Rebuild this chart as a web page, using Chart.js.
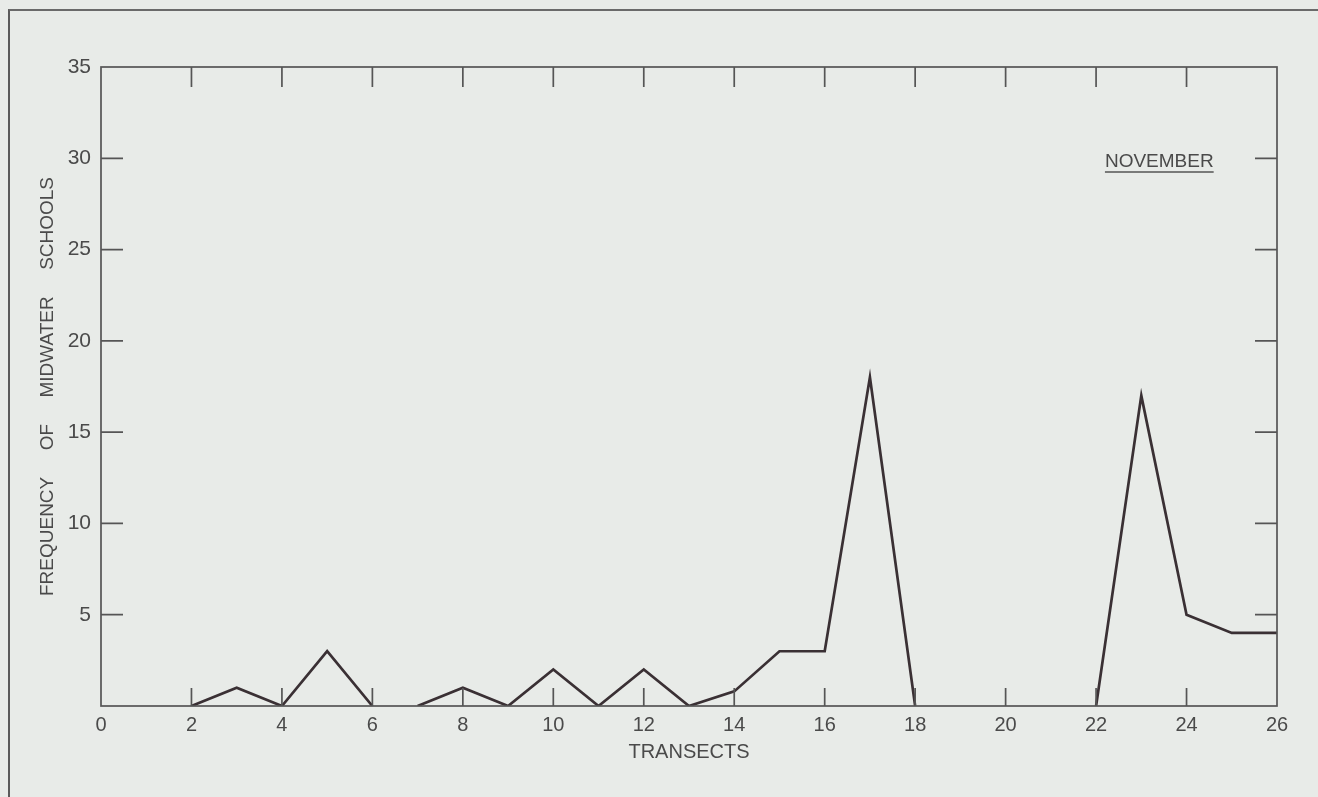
<!DOCTYPE html>
<html>
<head>
<meta charset="utf-8">
<script src="https://cdn.jsdelivr.net/npm/chart.js@4.4.1/dist/chart.umd.min.js"></script>
<style>
  html, body { margin: 0; padding: 0; background: #e8ebe8; }
  #wrap { position: relative; width: 1318px; height: 797px; overflow: hidden; }
  #frame { position: absolute; left: 8px; top: 9px; width: 1400px; height: 900px;
           border-top: 2px solid #6a6a6a; border-left: 2px solid #5a5a5a; }
  #chart { position: absolute; left: 0; top: 0; }
</style>
</head>
<body>
<div id="wrap">
  <div id="frame"></div>
  <canvas id="chart" width="1318" height="797"></canvas>
</div>
<script>
// transect numbers and school counts, split where the original line breaks
const transectsA = [2, 3, 4, 5, 6];
const schoolsA = [0, 1, 0, 3, 0];

const transectsB = [7, 8, 9, 10, 11, 12, 13, 14, 15, 16, 17, 18];
const schoolsB = [0, 1, 0, 2, 0, 2, 0, 0.8, 3, 3, 18, 0];

const transectsC = [22, 23, 24, 25, 26];
const schoolsC = [0, 17, 5, 4, 4];

const xTicks = [0, 2, 4, 6, 8, 10, 12, 14, 16, 18, 20, 22, 24, 26];
const yTicks = [5, 10, 15, 20, 25, 30, 35];
const innerX = [2, 4, 6, 8, 10, 12, 14, 16, 18, 20, 22, 24];
const innerY = [5, 10, 15, 20, 25, 30];

const ink = "#555555";
const textInk = "#4a4a4a";
const lineInk = "#3a3034";
const fontFamily = "'Liberation Sans', Arial, sans-serif";

function toPoints(xs, ys) {
    return xs.map((x, i) => ({ x: x, y: ys[i] }));
}

function gap(n) {
    return "\u00a0".repeat(n);
}

const yTitle = "FREQUENCY" + gap(5) + "OF" + gap(5) + "MIDWATER" + gap(5) + "SCHOOLS";

// frame, inward tick marks and the month label
const framePlugin = {
    id: "framePlugin",
    afterDraw(chart) {
        const ctx = chart.ctx;
        const area = chart.chartArea;
        const xs = chart.scales.x;
        const ys = chart.scales.y;

        ctx.save();
        ctx.strokeStyle = ink;
        ctx.lineWidth = 1.7;
        ctx.strokeRect(area.left, area.top, area.right - area.left, area.bottom - area.top);

        ctx.beginPath();
        innerX.forEach(v => {
            const px = xs.getPixelForValue(v);
            ctx.moveTo(px, area.top);
            ctx.lineTo(px, area.top + 20);
            ctx.moveTo(px, area.bottom);
            ctx.lineTo(px, area.bottom - 18);
        });
        innerY.forEach(v => {
            const py = ys.getPixelForValue(v);
            ctx.moveTo(area.left, py);
            ctx.lineTo(area.left + 22, py);
            ctx.moveTo(area.right, py);
            ctx.lineTo(area.right - 22, py);
        });
        ctx.stroke();

        ctx.fillStyle = textInk;
        ctx.font = "19px " + fontFamily;
        ctx.textAlign = "right";
        ctx.textBaseline = "middle";
        const lx = xs.getPixelForValue(24.6);
        const ly = ys.getPixelForValue(29.8);
        ctx.fillText("NOVEMBER", lx, ly);
        const w = ctx.measureText("NOVEMBER").width;
        ctx.lineWidth = 1.4;
        ctx.beginPath();
        ctx.moveTo(lx - w, ly + 10);
        ctx.lineTo(lx, ly + 10);
        ctx.stroke();
        ctx.restore();
    }
};

function series(xs, ys) {
    return {
        data: toPoints(xs, ys),
        borderColor: lineInk,
        borderWidth: 2.7,
        pointRadius: 0,
        tension: 0,
        fill: false
    };
}

new Chart(document.getElementById("chart"), {
    type: "line",
    data: {
        datasets: [
            series(transectsA, schoolsA),
            series(transectsB, schoolsB),
            series(transectsC, schoolsC)
        ]
    },
    options: {
        responsive: false,
        animation: false,
        layout: { padding: { top: 67, right: 41, left: 0, bottom: 0 } },
        plugins: {
            legend: { display: false },
            tooltip: { enabled: false }
        },
        scales: {
            x: {
                type: "linear",
                min: 0,
                max: 26,
                afterFit: s => { s.height = 91; },
                afterBuildTicks: s => { s.ticks = xTicks.map(v => ({ value: v })); },
                grid: { display: false, drawTicks: false },
                border: { display: false },
                ticks: {
                    color: textInk,
                    font: { family: fontFamily, size: 20 },
                    padding: 7,
                    maxRotation: 0,
                    autoSkip: false
                },
                title: {
                    display: true,
                    text: "TRANSECTS",
                    color: textInk,
                    font: { family: fontFamily, size: 20 },
                    padding: { top: 0, bottom: 33 }
                }
            },
            y: {
                type: "linear",
                min: 0,
                max: 35,
                afterFit: s => { s.width = 101; },
                afterBuildTicks: s => { s.ticks = yTicks.map(v => ({ value: v })); },
                grid: { display: false, drawTicks: false },
                border: { display: false },
                ticks: {
                    color: textInk,
                    font: { family: fontFamily, size: 21 },
                    padding: 10
                },
                title: {
                    display: true,
                    text: yTitle,
                    color: textInk,
                    font: { family: fontFamily, size: 19 },
                    padding: { top: 36, bottom: 0 }
                }
            }
        }
    },
    plugins: [framePlugin]
});
</script>
</body>
</html>
